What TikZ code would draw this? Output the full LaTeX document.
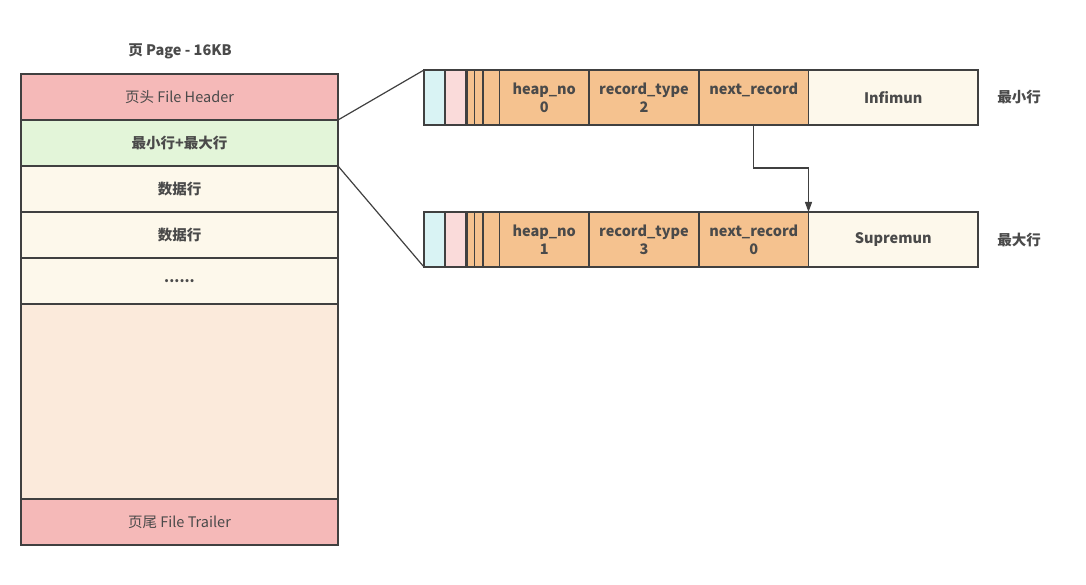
\documentclass[tikz,border=0pt]{standalone}
\usepackage{fontspec}
\setmainfont{Noto Sans CJK SC}
\usetikzlibrary{arrows.meta}
\definecolor{edge}{HTML}{404040}
\definecolor{ink}{HTML}{4A4A4A}
\definecolor{hdrfill}{HTML}{F5B9B8}
\definecolor{minmaxfill}{HTML}{E3F5D9}
\definecolor{rowfill}{HTML}{FDF8EB}
\definecolor{freefill}{HTML}{FBEADB}
\definecolor{cyanfill}{HTML}{D9F3F4}
\definecolor{pinkfill}{HTML}{FADBDA}
\definecolor{orangefill}{HTML}{F5C28F}
\tikzset{
  box/.style={draw=edge, line width=1.2pt, inner sep=0pt, outer sep=0pt,
    anchor=north west, text=ink, font=\fontsize{14.5}{18}\selectfont\bfseries, align=center},
  plain/.style={font=\fontsize{14.5}{18}\selectfont},
  lbl/.style={text=ink, font=\fontsize{14.5}{18}\selectfont\bfseries},
  link/.style={draw=edge, line width=1.2pt},
}
\newcommand{\cellbox}[6]{% name, x, y, w, h, fill
  \node[box, fill=#6, minimum width=#4pt, minimum height=#5pt] (#1) at (#2,#3) {};}
\begin{document}
\begin{tikzpicture}[x=1pt,y=-1pt]
\useasboundingbox (0,0) rectangle (1086,585);

% page title
\node[lbl] (title) at (180,51) {页 Page - 16KB};

% page layout column
\node[box, plain, fill=hdrfill, minimum width=317pt, minimum height=46pt] (hdr) at (21,74) {页头 File Header};
\node[box, fill=minmaxfill, minimum width=317pt, minimum height=46pt] (minmax) at (21,120) {最小行+最大行};
\node[box, fill=rowfill, minimum width=317pt, minimum height=46pt] (row1) at (21,166) {数据行};
\node[box, fill=rowfill, minimum width=317pt, minimum height=46pt] (row2) at (21,212) {数据行};
\node[box, fill=rowfill, minimum width=317pt, minimum height=46pt] (dots) at (21,258) {......};
\node[box, fill=freefill, minimum width=317pt, minimum height=195pt] (free) at (21,304) {};
\node[box, plain, fill=hdrfill, minimum width=317pt, minimum height=46pt] (trl) at (21,499) {页尾 File Trailer};

% infimum record
\cellbox{ia}{424}{70}{21}{55}{cyanfill}
\cellbox{ib}{445}{70}{21}{55}{pinkfill}
\cellbox{ic}{466}{70}{1}{55}{orangefill}
\cellbox{id}{467}{70}{7.5}{55}{orangefill}
\cellbox{ie}{474.5}{70}{8.5}{55}{orangefill}
\cellbox{if}{483}{70}{16.5}{55}{orangefill}
\node[box, fill=orangefill, minimum width=89.5pt, minimum height=55pt] (iheap) at (499.5,70) {heap\_no\\0};
\node[box, fill=orangefill, minimum width=110pt, minimum height=55pt] (itype) at (589,70) {record\_type\\2};
\node[box, fill=orangefill, minimum width=109.5pt, minimum height=55pt] (inext) at (699,70) {next\_record\\\phantom{0}};
\node[box, fill=rowfill, minimum width=169.5pt, minimum height=55pt] (iname) at (808.5,70) {Infimun};
\node[lbl] (imin) at (1019,97) {最小行};

% supremum record
\cellbox{sa}{424}{212}{21}{55}{cyanfill}
\cellbox{sb}{445}{212}{21}{55}{pinkfill}
\cellbox{sc}{466}{212}{1}{55}{orangefill}
\cellbox{sd}{467}{212}{7.5}{55}{orangefill}
\cellbox{se}{474.5}{212}{8.5}{55}{orangefill}
\cellbox{sf}{483}{212}{16.5}{55}{orangefill}
\node[box, fill=orangefill, minimum width=89.5pt, minimum height=55pt] (sheap) at (499.5,212) {heap\_no\\1};
\node[box, fill=orangefill, minimum width=110pt, minimum height=55pt] (stype) at (589,212) {record\_type\\3};
\node[box, fill=orangefill, minimum width=109.5pt, minimum height=55pt] (snext) at (699,212) {next\_record\\0};
\node[box, fill=rowfill, minimum width=169.5pt, minimum height=55pt] (sname) at (808.5,212) {Supremun};
\node[lbl] (smax) at (1019,240) {最大行};

% zoom-out lines from the page to the two records
\draw[link] (minmax.north east) -- (ia.north west);
\draw[link] (minmax.south east) -- (sa.south west);

% next_record pointer
\draw[link, -{Triangle[length=10pt, width=7pt]}] (inext.south) -- ++(0,43) -| (sname.north west);
\end{tikzpicture}
\end{document}
